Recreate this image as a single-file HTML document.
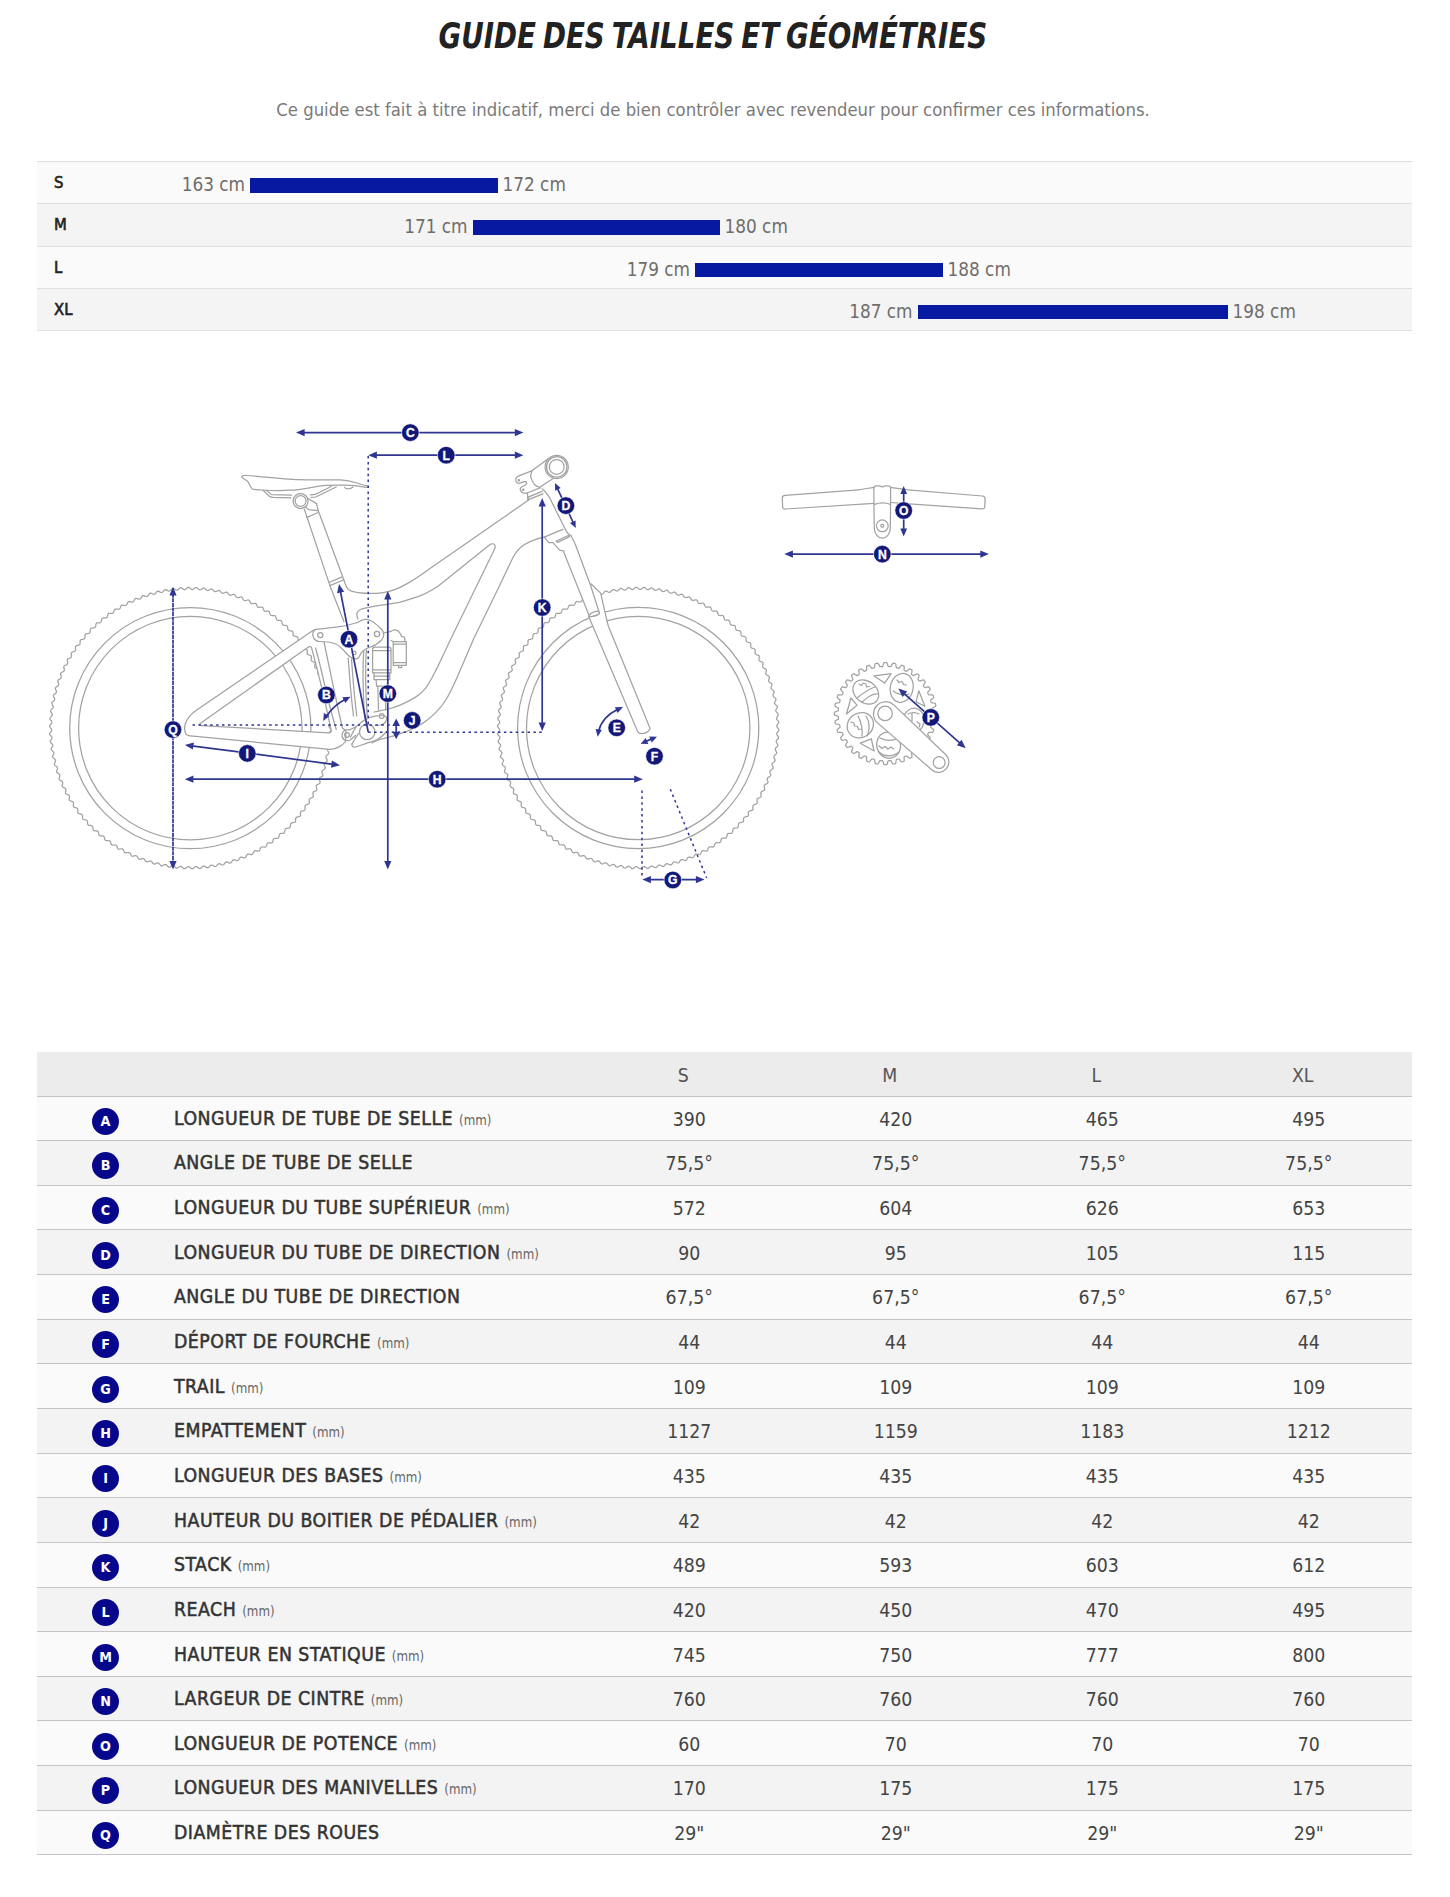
<!DOCTYPE html>
<html lang="fr"><head><meta charset="utf-8"><title>Guide des tailles et géométries</title>
<style>
html,body{margin:0;padding:0;background:#fff;}
body{width:1450px;height:1897px;overflow:hidden;font-family:"DejaVu Sans Condensed","DejaVu Sans","Liberation Sans",sans-serif;font-stretch:condensed;color:#333;}
#page{position:relative;width:1450px;height:1897px;}
.title{position:absolute;left:-12.5px;top:12px;width:1450px;margin:0;text-align:center;font:oblique bold 35px/48px "DejaVu Sans Condensed","DejaVu Sans","Liberation Sans",sans-serif;font-stretch:condensed;color:#222;white-space:nowrap;word-spacing:-3px;}
.title span{display:inline-block;transform:scaleX(.880);transform-origin:50% 50%;}
.sub{position:absolute;left:-12px;top:98px;width:1450px;margin:0;text-align:center;font-size:18.33px;line-height:24px;color:#7a7a7a;white-space:nowrap;}
.sizes{position:absolute;left:37px;top:161px;width:1375px;}
.srow{position:relative;height:41.3px;border-top:1px solid #dfdfdf;}
.srow.r0{background:#fafafa;}
.srow.r1{background:#f4f4f4;}
.send{border-top:1px solid #dfdfdf;}
.sname{position:absolute;left:17px;top:0;line-height:42px;font-size:16.5px;font-weight:normal;color:#222;-webkit-text-stroke:.6px #222;}
.slab{position:absolute;top:0;line-height:45px;font-size:18.8px;color:#706d6a;white-space:nowrap;}
.bar{position:absolute;top:16px;height:14.5px;background:#0619a0;}
.diagram{position:absolute;left:0;top:380px;width:1450px;height:560px;}
.geo{position:absolute;left:37px;top:1052px;width:1375px;border-collapse:collapse;table-layout:fixed;}
.geo th{box-sizing:border-box;height:44px;background:#ececec;font-weight:normal;font-size:19.3px;color:#555;padding:0 12px 0 0;}
.geo td{box-sizing:border-box;height:44.65px;border-top:1px solid #c5c5c5;padding:0;font-size:19.3px;}
.geo tr.r0 td{background:#fafafa;}
.geo tr.r1 td{background:#f3f3f3;}
.geo tbody tr:last-child td{border-bottom:1px solid #c5c5c5;}
.geo .c0{width:137px;text-align:center;}
.geo .c1{width:412px;text-align:left;}
.geo td.c1{color:#333;letter-spacing:.5px;-webkit-text-stroke:.5px #333;white-space:nowrap;}
.geo td.c1 small{font-size:13.2px;color:#666;letter-spacing:0;-webkit-text-stroke:0;}
.geo td.v{text-align:center;color:#444;}
.badge{display:inline-block;width:27px;height:27px;border-radius:50%;background:#07078c;color:#fff;font-size:14.2px;line-height:27px;text-align:center;vertical-align:middle;position:relative;top:3px;}

.geo th{padding-top:3px;}
.geo td.v{padding-top:2px;}

</style></head><body>
<div id="page">
<h1 class="title"><span>GUIDE DES TAILLES ET GÉOMÉTRIES</span></h1>
<p class="sub">Ce guide est fait à titre indicatif, merci de bien contrôler avec revendeur pour confirmer ces informations.</p>
<div class="sizes">
<div class="srow r0"><span class="sname">S</span><span class="slab l" style="right:1167.0px">163 cm</span><span class="bar" style="left:213.0px;width:247.5px"></span><span class="slab" style="left:465.5px">172 cm</span></div>
<div class="srow r1"><span class="sname">M</span><span class="slab l" style="right:944.5px">171 cm</span><span class="bar" style="left:435.5px;width:247.0px"></span><span class="slab" style="left:687.5px">180 cm</span></div>
<div class="srow r0"><span class="sname">L</span><span class="slab l" style="right:722.0px">179 cm</span><span class="bar" style="left:658.0px;width:247.5px"></span><span class="slab" style="left:910.5px">188 cm</span></div>
<div class="srow r1"><span class="sname">XL</span><span class="slab l" style="right:499.5px">187 cm</span><span class="bar" style="left:880.5px;width:310.0px"></span><span class="slab" style="left:1195.5px">198 cm</span></div>
<div class="send"></div></div>
<div class="diagram">
<svg width="1450" height="560" viewBox="0 380 1450 560">
<g fill="none" stroke="#a2a2a2" stroke-width="1.25" stroke-linecap="round" stroke-linejoin="round">
<path d="M329.9,728.1 L330.6,728.9 L331.0,729.7 L331.0,730.4 L330.5,731.2 L329.8,731.9 L329.2,732.7 L328.8,733.4 L328.8,734.2 L329.1,735.0 L329.7,735.8 L330.3,736.6 L330.7,737.4 L330.6,738.2 L330.2,738.9 L329.4,739.6 L328.8,740.3 L328.3,741.1 L328.3,741.8 L328.6,742.6 L329.1,743.5 L329.6,744.3 L330.0,745.1 L329.9,745.9 L329.4,746.6 L328.6,747.3 L327.9,748.0 L327.4,748.7 L327.3,749.4 L327.5,750.2 L328.0,751.1 L328.5,752.0 L328.8,752.8 L328.7,753.5 L328.1,754.2 L327.3,754.9 L326.6,755.5 L326.1,756.2 L325.9,756.9 L326.1,757.8 L326.5,758.6 L327.0,759.5 L327.2,760.4 L327.1,761.1 L326.5,761.8 L325.6,762.4 L324.9,763.0 L324.3,763.6 L324.1,764.4 L324.3,765.2 L324.6,766.1 L325.1,767.0 L325.3,767.9 L325.0,768.6 L324.4,769.2 L323.5,769.8 L322.7,770.3 L322.2,770.9 L321.9,771.7 L322.0,772.5 L322.3,773.4 L322.7,774.4 L322.9,775.2 L322.6,776.0 L321.9,776.6 L321.0,777.0 L320.2,777.6 L319.6,778.1 L319.3,778.9 L319.4,779.7 L319.6,780.6 L320.0,781.6 L320.1,782.5 L319.8,783.2 L319.1,783.7 L318.1,784.2 L317.3,784.6 L316.6,785.2 L316.3,785.9 L316.3,786.7 L316.5,787.7 L316.8,788.7 L316.9,789.5 L316.5,790.2 L315.8,790.7 L314.9,791.1 L314.0,791.6 L313.3,792.1 L313.0,792.7 L312.9,793.6 L313.1,794.5 L313.3,795.5 L313.3,796.4 L312.9,797.1 L312.2,797.6 L311.2,797.9 L310.3,798.3 L309.6,798.7 L309.2,799.4 L309.1,800.2 L309.2,801.2 L309.4,802.2 L309.3,803.1 L308.9,803.7 L308.2,804.2 L307.2,804.5 L306.3,804.8 L305.5,805.2 L305.1,805.8 L305.0,806.7 L305.0,807.6 L305.1,808.7 L305.0,809.5 L304.6,810.2 L303.8,810.6 L302.8,810.8 L301.9,811.0 L301.1,811.4 L300.6,812.0 L300.5,812.9 L300.5,813.8 L300.5,814.9 L300.4,815.7 L299.9,816.3 L299.1,816.7 L298.1,816.8 L297.1,817.1 L296.3,817.4 L295.9,818.0 L295.6,818.8 L295.6,819.8 L295.6,820.8 L295.4,821.7 L294.9,822.2 L294.0,822.5 L293.0,822.6 L292.1,822.8 L291.3,823.1 L290.7,823.7 L290.5,824.5 L290.4,825.4 L290.3,826.5 L290.1,827.3 L289.5,827.9 L288.7,828.1 L287.6,828.2 L286.7,828.3 L285.9,828.5 L285.3,829.1 L285.0,829.9 L284.8,830.8 L284.7,831.8 L284.4,832.7 L283.9,833.2 L283.0,833.4 L282.0,833.4 L281.0,833.4 L280.2,833.7 L279.6,834.1 L279.3,834.9 L279.0,835.9 L278.9,836.9 L278.5,837.7 L277.9,838.2 L277.1,838.3 L276.0,838.3 L275.1,838.3 L274.2,838.4 L273.6,838.9 L273.2,839.7 L273.0,840.6 L272.8,841.6 L272.4,842.4 L271.7,842.8 L270.9,842.9 L269.8,842.8 L268.9,842.8 L268.0,842.9 L267.4,843.3 L267.0,844.1 L266.7,845.0 L266.4,846.0 L265.9,846.7 L265.3,847.1 L264.4,847.2 L263.4,847.0 L262.4,846.9 L261.6,847.0 L260.9,847.4 L260.5,848.1 L260.1,849.0 L259.8,850.0 L259.3,850.7 L258.6,851.1 L257.7,851.1 L256.7,850.9 L255.8,850.7 L254.9,850.8 L254.3,851.1 L253.8,851.8 L253.3,852.7 L252.9,853.6 L252.4,854.3 L251.7,854.7 L250.9,854.6 L249.9,854.3 L248.9,854.1 L248.1,854.1 L247.4,854.4 L246.8,855.1 L246.4,855.9 L245.9,856.9 L245.4,857.6 L244.7,857.9 L243.8,857.8 L242.8,857.4 L241.9,857.2 L241.1,857.1 L240.3,857.4 L239.8,858.0 L239.2,858.8 L238.8,859.7 L238.2,860.4 L237.4,860.7 L236.6,860.5 L235.6,860.1 L234.7,859.8 L233.9,859.7 L233.1,860.0 L232.5,860.5 L232.0,861.3 L231.4,862.2 L230.8,862.8 L230.1,863.1 L229.2,862.9 L228.3,862.4 L227.4,862.1 L226.6,861.9 L225.8,862.1 L225.2,862.7 L224.6,863.4 L224.0,864.3 L223.3,864.9 L222.6,865.0 L221.7,864.8 L220.8,864.3 L220.0,863.9 L219.1,863.7 L218.4,863.9 L217.7,864.4 L217.1,865.1 L216.4,865.9 L215.7,866.5 L215.0,866.6 L214.2,866.3 L213.3,865.8 L212.4,865.3 L211.6,865.1 L210.9,865.2 L210.2,865.7 L209.5,866.4 L208.8,867.2 L208.1,867.7 L207.3,867.8 L206.5,867.4 L205.7,866.9 L204.8,866.4 L204.0,866.1 L203.3,866.1 L202.5,866.6 L201.8,867.2 L201.1,868.0 L200.4,868.4 L199.6,868.5 L198.8,868.1 L198.0,867.5 L197.2,866.9 L196.4,866.6 L195.6,866.6 L194.9,867.0 L194.1,867.6 L193.4,868.3 L192.6,868.8 L191.9,868.8 L191.1,868.4 L190.3,867.7 L189.5,867.1 L188.8,866.7 L188.0,866.7 L187.2,867.1 L186.5,867.6 L185.7,868.3 L184.9,868.7 L184.1,868.7 L183.3,868.2 L182.6,867.5 L181.9,866.9 L181.1,866.4 L180.4,866.4 L179.6,866.7 L178.8,867.2 L177.9,867.8 L177.1,868.2 L176.4,868.1 L175.6,867.6 L174.9,866.9 L174.2,866.2 L173.5,865.7 L172.8,865.6 L172.0,865.9 L171.1,866.4 L170.3,866.9 L169.4,867.2 L168.7,867.1 L168.0,866.6 L167.3,865.8 L166.7,865.1 L166.0,864.6 L165.2,864.5 L164.4,864.7 L163.5,865.1 L162.6,865.6 L161.8,865.9 L161.0,865.7 L160.4,865.1 L159.8,864.3 L159.2,863.6 L158.5,863.1 L157.7,862.9 L156.9,863.0 L156.0,863.4 L155.1,863.9 L154.3,864.1 L153.5,863.9 L152.9,863.3 L152.3,862.4 L151.7,861.7 L151.1,861.1 L150.4,860.9 L149.5,861.0 L148.6,861.3 L147.7,861.7 L146.8,861.9 L146.1,861.7 L145.5,861.0 L145.0,860.1 L144.4,859.3 L143.8,858.7 L143.1,858.5 L142.3,858.6 L141.4,858.8 L140.4,859.2 L139.5,859.3 L138.8,859.0 L138.2,858.4 L137.8,857.4 L137.3,856.6 L136.7,856.0 L136.0,855.7 L135.2,855.7 L134.2,855.9 L133.2,856.2 L132.4,856.3 L131.7,856.0 L131.1,855.3 L130.7,854.3 L130.3,853.5 L129.7,852.8 L129.1,852.5 L128.2,852.5 L127.3,852.7 L126.3,852.9 L125.4,852.9 L124.7,852.6 L124.2,851.8 L123.9,850.9 L123.5,850.0 L123.0,849.3 L122.3,848.9 L121.5,848.9 L120.5,849.0 L119.5,849.2 L118.6,849.2 L117.9,848.8 L117.5,848.0 L117.2,847.0 L116.9,846.1 L116.4,845.4 L115.8,845.0 L114.9,844.9 L113.9,845.0 L112.9,845.1 L112.1,845.0 L111.4,844.6 L111.0,843.8 L110.8,842.8 L110.5,841.9 L110.0,841.2 L109.4,840.7 L108.6,840.6 L107.6,840.6 L106.6,840.7 L105.7,840.5 L105.1,840.1 L104.8,839.3 L104.6,838.3 L104.3,837.3 L103.9,836.6 L103.3,836.1 L102.5,835.9 L101.6,835.9 L100.5,835.9 L99.7,835.7 L99.1,835.2 L98.8,834.4 L98.6,833.4 L98.4,832.4 L98.1,831.6 L97.5,831.1 L96.7,830.9 L95.8,830.8 L94.7,830.8 L93.9,830.6 L93.3,830.0 L93.0,829.2 L93.0,828.2 L92.8,827.2 L92.5,826.4 L92.0,825.9 L91.2,825.6 L90.2,825.4 L89.2,825.4 L88.4,825.1 L87.8,824.5 L87.6,823.7 L87.6,822.6 L87.5,821.7 L87.3,820.9 L86.8,820.3 L86.0,820.0 L85.0,819.8 L84.0,819.6 L83.2,819.3 L82.7,818.7 L82.5,817.9 L82.5,816.8 L82.5,815.9 L82.3,815.1 L81.8,814.5 L81.1,814.1 L80.1,813.8 L79.1,813.6 L78.3,813.3 L77.9,812.7 L77.7,811.8 L77.8,810.8 L77.8,809.8 L77.7,809.0 L77.2,808.4 L76.5,807.9 L75.6,807.6 L74.6,807.4 L73.8,807.0 L73.4,806.3 L73.3,805.5 L73.4,804.5 L73.5,803.5 L73.4,802.6 L73.0,802.0 L72.3,801.5 L71.4,801.2 L70.4,800.9 L69.6,800.5 L69.2,799.8 L69.2,798.9 L69.4,797.9 L69.5,796.9 L69.5,796.1 L69.1,795.4 L68.4,794.9 L67.5,794.5 L66.6,794.2 L65.8,793.7 L65.5,793.0 L65.5,792.1 L65.7,791.1 L65.9,790.2 L65.9,789.3 L65.6,788.7 L64.9,788.1 L64.1,787.7 L63.1,787.3 L62.4,786.7 L62.1,786.0 L62.2,785.2 L62.5,784.2 L62.7,783.2 L62.7,782.4 L62.4,781.7 L61.8,781.1 L61.0,780.6 L60.0,780.2 L59.4,779.6 L59.1,778.9 L59.2,778.0 L59.6,777.0 L59.8,776.1 L59.9,775.3 L59.7,774.6 L59.1,774.0 L58.3,773.4 L57.4,772.9 L56.7,772.3 L56.5,771.6 L56.7,770.7 L57.1,769.8 L57.4,768.9 L57.5,768.0 L57.3,767.3 L56.7,766.7 L56.0,766.1 L55.1,765.5 L54.5,764.9 L54.3,764.1 L54.5,763.3 L55.0,762.4 L55.4,761.5 L55.5,760.7 L55.3,759.9 L54.8,759.2 L54.1,758.6 L53.3,758.0 L52.7,757.4 L52.5,756.6 L52.8,755.8 L53.3,754.9 L53.7,754.0 L53.9,753.2 L53.8,752.4 L53.3,751.7 L52.6,751.1 L51.8,750.4 L51.3,749.7 L51.2,749.0 L51.5,748.1 L52.0,747.3 L52.5,746.4 L52.8,745.6 L52.7,744.9 L52.2,744.2 L51.5,743.5 L50.8,742.8 L50.3,742.0 L50.2,741.3 L50.6,740.5 L51.2,739.6 L51.7,738.8 L52.0,738.0 L52.0,737.3 L51.5,736.5 L50.9,735.8 L50.2,735.1 L49.7,734.3 L49.7,733.5 L50.1,732.7 L50.8,731.9 L51.3,731.2 L51.7,730.4 L51.7,729.6 L51.3,728.9 L50.7,728.1 L50.0,727.3 L49.6,726.5 L49.6,725.8 L50.1,725.0 L50.8,724.3 L51.4,723.5 L51.8,722.8 L51.8,722.0 L51.5,721.2 L50.9,720.4 L50.3,719.6 L49.9,718.8 L50.0,718.0 L50.4,717.3 L51.2,716.6 L51.8,715.9 L52.3,715.1 L52.3,714.4 L52.0,713.6 L51.5,712.7 L51.0,711.9 L50.6,711.1 L50.7,710.3 L51.2,709.6 L52.0,708.9 L52.7,708.2 L53.2,707.5 L53.3,706.8 L53.1,706.0 L52.6,705.1 L52.1,704.2 L51.8,703.4 L51.9,702.7 L52.5,702.0 L53.3,701.3 L54.0,700.7 L54.5,700.0 L54.7,699.3 L54.5,698.4 L54.1,697.6 L53.6,696.7 L53.4,695.8 L53.5,695.1 L54.1,694.4 L55.0,693.8 L55.7,693.2 L56.3,692.6 L56.5,691.8 L56.3,691.0 L56.0,690.1 L55.5,689.2 L55.3,688.3 L55.6,687.6 L56.2,687.0 L57.1,686.4 L57.9,685.9 L58.4,685.3 L58.7,684.5 L58.6,683.7 L58.3,682.8 L57.9,681.8 L57.7,681.0 L58.0,680.2 L58.7,679.6 L59.6,679.2 L60.4,678.6 L61.0,678.1 L61.3,677.3 L61.2,676.5 L61.0,675.6 L60.6,674.6 L60.5,673.7 L60.8,673.0 L61.5,672.5 L62.5,672.0 L63.3,671.6 L64.0,671.0 L64.3,670.3 L64.3,669.5 L64.1,668.5 L63.8,667.5 L63.7,666.7 L64.1,666.0 L64.8,665.5 L65.7,665.1 L66.6,664.6 L67.3,664.1 L67.6,663.5 L67.7,662.6 L67.5,661.7 L67.3,660.7 L67.3,659.8 L67.7,659.1 L68.4,658.6 L69.4,658.3 L70.3,657.9 L71.0,657.5 L71.4,656.8 L71.5,656.0 L71.4,655.0 L71.2,654.0 L71.3,653.1 L71.7,652.5 L72.4,652.0 L73.4,651.7 L74.3,651.4 L75.1,651.0 L75.5,650.4 L75.6,649.5 L75.6,648.6 L75.5,647.5 L75.6,646.7 L76.0,646.0 L76.8,645.6 L77.8,645.4 L78.7,645.2 L79.5,644.8 L80.0,644.2 L80.1,643.3 L80.1,642.4 L80.1,641.3 L80.2,640.5 L80.7,639.9 L81.5,639.5 L82.5,639.4 L83.5,639.1 L84.3,638.8 L84.7,638.2 L85.0,637.4 L85.0,636.4 L85.0,635.4 L85.2,634.5 L85.7,634.0 L86.6,633.7 L87.6,633.6 L88.5,633.4 L89.3,633.1 L89.9,632.5 L90.1,631.7 L90.2,630.8 L90.3,629.7 L90.5,628.9 L91.1,628.3 L91.9,628.1 L93.0,628.0 L93.9,627.9 L94.7,627.7 L95.3,627.1 L95.6,626.3 L95.8,625.4 L95.9,624.4 L96.2,623.5 L96.7,623.0 L97.6,622.8 L98.6,622.8 L99.6,622.8 L100.4,622.5 L101.0,622.1 L101.3,621.3 L101.6,620.3 L101.7,619.3 L102.1,618.5 L102.7,618.0 L103.5,617.9 L104.6,617.9 L105.5,617.9 L106.4,617.8 L107.0,617.3 L107.4,616.5 L107.6,615.6 L107.8,614.6 L108.2,613.8 L108.9,613.4 L109.7,613.3 L110.8,613.4 L111.7,613.4 L112.6,613.3 L113.2,612.9 L113.6,612.1 L113.9,611.2 L114.2,610.2 L114.7,609.5 L115.3,609.1 L116.2,609.0 L117.2,609.2 L118.2,609.3 L119.0,609.2 L119.7,608.8 L120.1,608.1 L120.5,607.2 L120.8,606.2 L121.3,605.5 L122.0,605.1 L122.9,605.1 L123.9,605.3 L124.8,605.5 L125.7,605.4 L126.3,605.1 L126.8,604.4 L127.3,603.5 L127.7,602.6 L128.2,601.9 L128.9,601.5 L129.7,601.6 L130.7,601.9 L131.7,602.1 L132.5,602.1 L133.2,601.8 L133.8,601.1 L134.2,600.3 L134.7,599.3 L135.2,598.6 L135.9,598.3 L136.8,598.4 L137.8,598.8 L138.7,599.0 L139.5,599.1 L140.3,598.8 L140.8,598.2 L141.4,597.4 L141.8,596.5 L142.4,595.8 L143.2,595.5 L144.0,595.7 L145.0,596.1 L145.9,596.4 L146.7,596.5 L147.5,596.2 L148.1,595.7 L148.6,594.9 L149.2,594.0 L149.8,593.4 L150.5,593.1 L151.4,593.3 L152.3,593.8 L153.2,594.1 L154.0,594.3 L154.8,594.1 L155.4,593.5 L156.0,592.8 L156.6,591.9 L157.3,591.3 L158.0,591.2 L158.9,591.4 L159.8,591.9 L160.6,592.3 L161.5,592.5 L162.2,592.3 L162.9,591.8 L163.5,591.1 L164.2,590.3 L164.9,589.7 L165.6,589.6 L166.4,589.9 L167.3,590.4 L168.2,590.9 L169.0,591.1 L169.7,591.0 L170.4,590.5 L171.1,589.8 L171.8,589.0 L172.5,588.5 L173.3,588.4 L174.1,588.8 L174.9,589.3 L175.8,589.8 L176.6,590.1 L177.3,590.1 L178.1,589.6 L178.8,589.0 L179.5,588.2 L180.2,587.8 L181.0,587.7 L181.8,588.1 L182.6,588.7 L183.4,589.3 L184.2,589.6 L185.0,589.6 L185.7,589.2 L186.5,588.6 L187.2,587.9 L188.0,587.4 L188.7,587.4 L189.5,587.8 L190.3,588.5 L191.1,589.1 L191.8,589.5 L192.6,589.5 L193.4,589.1 L194.1,588.6 L194.9,587.9 L195.7,587.5 L196.5,587.5 L197.3,588.0 L198.0,588.7 L198.7,589.3 L199.5,589.8 L200.2,589.8 L201.0,589.5 L201.8,589.0 L202.7,588.4 L203.5,588.0 L204.2,588.1 L205.0,588.6 L205.7,589.3 L206.4,590.0 L207.1,590.5 L207.8,590.6 L208.6,590.3 L209.5,589.8 L210.3,589.3 L211.2,589.0 L211.9,589.1 L212.6,589.6 L213.3,590.4 L213.9,591.1 L214.6,591.6 L215.4,591.7 L216.2,591.5 L217.1,591.1 L218.0,590.6 L218.8,590.3 L219.6,590.5 L220.2,591.1 L220.8,591.9 L221.4,592.6 L222.1,593.1 L222.9,593.3 L223.7,593.2 L224.6,592.8 L225.5,592.3 L226.3,592.1 L227.1,592.3 L227.7,592.9 L228.3,593.8 L228.9,594.5 L229.5,595.1 L230.2,595.3 L231.1,595.2 L232.0,594.9 L232.9,594.5 L233.8,594.3 L234.5,594.5 L235.1,595.2 L235.6,596.1 L236.2,596.9 L236.8,597.5 L237.5,597.7 L238.3,597.6 L239.2,597.4 L240.2,597.0 L241.1,596.9 L241.8,597.2 L242.4,597.8 L242.8,598.8 L243.3,599.6 L243.9,600.2 L244.6,600.5 L245.4,600.5 L246.4,600.3 L247.4,600.0 L248.2,599.9 L248.9,600.2 L249.5,600.9 L249.9,601.9 L250.3,602.7 L250.9,603.4 L251.5,603.7 L252.4,603.7 L253.3,603.5 L254.3,603.3 L255.2,603.3 L255.9,603.6 L256.4,604.4 L256.7,605.3 L257.1,606.2 L257.6,606.9 L258.3,607.3 L259.1,607.3 L260.1,607.2 L261.1,607.0 L262.0,607.0 L262.7,607.4 L263.1,608.2 L263.4,609.2 L263.7,610.1 L264.2,610.8 L264.8,611.2 L265.7,611.3 L266.7,611.2 L267.7,611.1 L268.5,611.2 L269.2,611.6 L269.6,612.4 L269.8,613.4 L270.1,614.3 L270.6,615.0 L271.2,615.5 L272.0,615.6 L273.0,615.6 L274.0,615.5 L274.9,615.7 L275.5,616.1 L275.8,616.9 L276.0,617.9 L276.3,618.9 L276.7,619.6 L277.3,620.1 L278.1,620.3 L279.0,620.3 L280.1,620.3 L280.9,620.5 L281.5,621.0 L281.8,621.8 L282.0,622.8 L282.2,623.8 L282.5,624.6 L283.1,625.1 L283.9,625.3 L284.8,625.4 L285.9,625.4 L286.7,625.6 L287.3,626.2 L287.6,627.0 L287.6,628.0 L287.8,629.0 L288.1,629.8 L288.6,630.3 L289.4,630.6 L290.4,630.8 L291.4,630.8 L292.2,631.1 L292.8,631.7 L293.0,632.5 L293.0,633.6 L293.1,634.5 L293.3,635.3 L293.8,635.9 L294.6,636.2 L295.6,636.4 L296.6,636.6 L297.4,636.9 L297.9,637.5 L298.1,638.3 L298.1,639.4 L298.1,640.3 L298.3,641.1 L298.8,641.7 L299.5,642.1 L300.5,642.4 L301.5,642.6 L302.3,642.9 L302.7,643.5 L302.9,644.4 L302.8,645.4 L302.8,646.4 L302.9,647.2 L303.4,647.8 L304.1,648.3 L305.0,648.6 L306.0,648.8 L306.8,649.2 L307.2,649.9 L307.3,650.7 L307.2,651.7 L307.1,652.7 L307.2,653.6 L307.6,654.2 L308.3,654.7 L309.2,655.0 L310.2,655.3 L311.0,655.7 L311.4,656.4 L311.4,657.3 L311.2,658.3 L311.1,659.3 L311.1,660.1 L311.5,660.8 L312.2,661.3 L313.1,661.7 L314.0,662.0 L314.8,662.5 L315.1,663.2 L315.1,664.1 L314.9,665.1 L314.7,666.0 L314.7,666.9 L315.0,667.5 L315.7,668.1 L316.5,668.5 L317.5,668.9 L318.2,669.5 L318.5,670.2 L318.4,671.0 L318.1,672.0 L317.9,673.0 L317.9,673.8 L318.2,674.5 L318.8,675.1 L319.6,675.6 L320.6,676.0 L321.2,676.6 L321.5,677.3 L321.4,678.2 L321.0,679.2 L320.8,680.1 L320.7,680.9 L320.9,681.6 L321.5,682.2 L322.3,682.8 L323.2,683.3 L323.9,683.9 L324.1,684.6 L323.9,685.5 L323.5,686.4 L323.2,687.3 L323.1,688.2 L323.3,688.9 L323.9,689.5 L324.6,690.1 L325.5,690.7 L326.1,691.3 L326.3,692.1 L326.1,692.9 L325.6,693.8 L325.2,694.7 L325.1,695.5 L325.3,696.3 L325.8,697.0 L326.5,697.6 L327.3,698.2 L327.9,698.8 L328.1,699.6 L327.8,700.4 L327.3,701.3 L326.9,702.2 L326.7,703.0 L326.8,703.8 L327.3,704.5 L328.0,705.1 L328.8,705.8 L329.3,706.5 L329.4,707.2 L329.1,708.1 L328.6,708.9 L328.1,709.8 L327.8,710.6 L327.9,711.3 L328.4,712.0 L329.1,712.7 L329.8,713.4 L330.3,714.2 L330.4,714.9 L330.0,715.7 L329.4,716.6 L328.9,717.4 L328.6,718.2 L328.6,718.9 L329.1,719.7 L329.7,720.4 L330.4,721.1 L330.9,721.9 L330.9,722.7 L330.5,723.5 L329.8,724.3 L329.3,725.0 L328.9,725.8 L328.9,726.6 L329.3,727.3 L329.9,728.1Z"/>
<circle cx="190.3" cy="728.1" r="120.6"/><circle cx="190.3" cy="728.1" r="111.7"/>
<path d="M777.8,728.0 L778.5,728.8 L778.9,729.6 L778.9,730.3 L778.4,731.1 L777.7,731.8 L777.1,732.6 L776.7,733.3 L776.7,734.1 L777.0,734.9 L777.6,735.7 L778.2,736.5 L778.6,737.3 L778.5,738.1 L778.1,738.8 L777.3,739.5 L776.7,740.2 L776.2,741.0 L776.2,741.7 L776.5,742.5 L777.0,743.4 L777.5,744.2 L777.9,745.0 L777.8,745.8 L777.3,746.5 L776.5,747.2 L775.8,747.9 L775.3,748.6 L775.2,749.3 L775.4,750.1 L775.9,751.0 L776.4,751.9 L776.7,752.7 L776.6,753.4 L776.0,754.1 L775.2,754.8 L774.5,755.4 L774.0,756.1 L773.8,756.8 L774.0,757.7 L774.4,758.5 L774.9,759.4 L775.1,760.3 L775.0,761.0 L774.4,761.7 L773.5,762.3 L772.8,762.9 L772.2,763.5 L772.0,764.3 L772.2,765.1 L772.5,766.0 L773.0,766.9 L773.2,767.8 L772.9,768.5 L772.3,769.1 L771.4,769.7 L770.6,770.2 L770.1,770.8 L769.8,771.6 L769.9,772.4 L770.2,773.3 L770.6,774.3 L770.8,775.1 L770.5,775.9 L769.8,776.5 L768.9,776.9 L768.1,777.5 L767.5,778.0 L767.2,778.8 L767.3,779.6 L767.5,780.5 L767.9,781.5 L768.0,782.4 L767.7,783.1 L767.0,783.6 L766.0,784.1 L765.2,784.5 L764.5,785.1 L764.2,785.8 L764.2,786.6 L764.4,787.6 L764.7,788.6 L764.8,789.4 L764.4,790.1 L763.7,790.6 L762.8,791.0 L761.9,791.5 L761.2,792.0 L760.9,792.6 L760.8,793.5 L761.0,794.4 L761.2,795.4 L761.2,796.3 L760.8,797.0 L760.1,797.5 L759.1,797.8 L758.2,798.2 L757.5,798.6 L757.1,799.3 L757.0,800.1 L757.1,801.1 L757.3,802.1 L757.2,803.0 L756.8,803.6 L756.1,804.1 L755.1,804.4 L754.2,804.7 L753.4,805.1 L753.0,805.7 L752.9,806.6 L752.9,807.5 L753.0,808.6 L752.9,809.4 L752.5,810.1 L751.7,810.5 L750.7,810.7 L749.8,810.9 L749.0,811.3 L748.5,811.9 L748.4,812.8 L748.4,813.7 L748.4,814.8 L748.3,815.6 L747.8,816.2 L747.0,816.6 L746.0,816.7 L745.0,817.0 L744.2,817.3 L743.8,817.9 L743.5,818.7 L743.5,819.7 L743.5,820.7 L743.3,821.6 L742.8,822.1 L741.9,822.4 L740.9,822.5 L740.0,822.7 L739.2,823.0 L738.6,823.6 L738.4,824.4 L738.3,825.3 L738.2,826.4 L738.0,827.2 L737.4,827.8 L736.6,828.0 L735.5,828.1 L734.6,828.2 L733.8,828.4 L733.2,829.0 L732.9,829.8 L732.7,830.7 L732.6,831.7 L732.3,832.6 L731.8,833.1 L730.9,833.3 L729.9,833.3 L728.9,833.3 L728.1,833.6 L727.5,834.0 L727.2,834.8 L726.9,835.8 L726.8,836.8 L726.4,837.6 L725.8,838.1 L725.0,838.2 L723.9,838.2 L723.0,838.2 L722.1,838.3 L721.5,838.8 L721.1,839.6 L720.9,840.5 L720.7,841.5 L720.3,842.3 L719.6,842.7 L718.8,842.8 L717.7,842.7 L716.8,842.7 L715.9,842.8 L715.3,843.2 L714.9,844.0 L714.6,844.9 L714.3,845.9 L713.8,846.6 L713.2,847.0 L712.3,847.1 L711.3,846.9 L710.3,846.8 L709.5,846.9 L708.8,847.3 L708.4,848.0 L708.0,848.9 L707.7,849.9 L707.2,850.6 L706.5,851.0 L705.6,851.0 L704.6,850.8 L703.7,850.6 L702.8,850.7 L702.2,851.0 L701.7,851.7 L701.2,852.6 L700.8,853.5 L700.3,854.2 L699.6,854.6 L698.8,854.5 L697.8,854.2 L696.8,854.0 L696.0,854.0 L695.3,854.3 L694.7,855.0 L694.3,855.8 L693.8,856.8 L693.3,857.5 L692.6,857.8 L691.7,857.7 L690.7,857.3 L689.8,857.1 L689.0,857.0 L688.2,857.3 L687.7,857.9 L687.1,858.7 L686.7,859.6 L686.1,860.3 L685.3,860.6 L684.5,860.4 L683.5,860.0 L682.6,859.7 L681.8,859.6 L681.0,859.9 L680.4,860.4 L679.9,861.2 L679.3,862.1 L678.7,862.7 L678.0,863.0 L677.1,862.8 L676.2,862.3 L675.3,862.0 L674.5,861.8 L673.7,862.0 L673.1,862.6 L672.5,863.3 L671.9,864.2 L671.2,864.8 L670.5,864.9 L669.6,864.7 L668.7,864.2 L667.9,863.8 L667.0,863.6 L666.3,863.8 L665.6,864.3 L665.0,865.0 L664.3,865.8 L663.6,866.4 L662.9,866.5 L662.1,866.2 L661.2,865.7 L660.3,865.2 L659.5,865.0 L658.8,865.1 L658.1,865.6 L657.4,866.3 L656.7,867.1 L656.0,867.6 L655.2,867.7 L654.4,867.3 L653.6,866.8 L652.7,866.3 L651.9,866.0 L651.2,866.0 L650.4,866.5 L649.7,867.1 L649.0,867.9 L648.3,868.3 L647.5,868.4 L646.7,868.0 L645.9,867.4 L645.1,866.8 L644.3,866.5 L643.5,866.5 L642.8,866.9 L642.0,867.5 L641.3,868.2 L640.5,868.7 L639.8,868.7 L639.0,868.3 L638.2,867.6 L637.4,867.0 L636.7,866.6 L635.9,866.6 L635.1,867.0 L634.4,867.5 L633.6,868.2 L632.8,868.6 L632.0,868.6 L631.2,868.1 L630.5,867.4 L629.8,866.8 L629.0,866.3 L628.3,866.3 L627.5,866.6 L626.7,867.1 L625.8,867.7 L625.0,868.1 L624.3,868.0 L623.5,867.5 L622.8,866.8 L622.1,866.1 L621.4,865.6 L620.7,865.5 L619.9,865.8 L619.0,866.3 L618.2,866.8 L617.3,867.1 L616.6,867.0 L615.9,866.5 L615.2,865.7 L614.6,865.0 L613.9,864.5 L613.1,864.4 L612.3,864.6 L611.4,865.0 L610.5,865.5 L609.7,865.8 L608.9,865.6 L608.3,865.0 L607.7,864.2 L607.1,863.5 L606.4,863.0 L605.6,862.8 L604.8,862.9 L603.9,863.3 L603.0,863.8 L602.2,864.0 L601.4,863.8 L600.8,863.2 L600.2,862.3 L599.6,861.6 L599.0,861.0 L598.3,860.8 L597.4,860.9 L596.5,861.2 L595.6,861.6 L594.7,861.8 L594.0,861.6 L593.4,860.9 L592.9,860.0 L592.3,859.2 L591.7,858.6 L591.0,858.4 L590.2,858.5 L589.3,858.7 L588.3,859.1 L587.4,859.2 L586.7,858.9 L586.1,858.3 L585.7,857.3 L585.2,856.5 L584.6,855.9 L583.9,855.6 L583.1,855.6 L582.1,855.8 L581.1,856.1 L580.3,856.2 L579.6,855.9 L579.0,855.2 L578.6,854.2 L578.2,853.4 L577.6,852.7 L577.0,852.4 L576.1,852.4 L575.2,852.6 L574.2,852.8 L573.3,852.8 L572.6,852.5 L572.1,851.7 L571.8,850.8 L571.4,849.9 L570.9,849.2 L570.2,848.8 L569.4,848.8 L568.4,848.9 L567.4,849.1 L566.5,849.1 L565.8,848.7 L565.4,847.9 L565.1,846.9 L564.8,846.0 L564.3,845.3 L563.7,844.9 L562.8,844.8 L561.8,844.9 L560.8,845.0 L560.0,844.9 L559.3,844.5 L558.9,843.7 L558.7,842.7 L558.4,841.8 L557.9,841.1 L557.3,840.6 L556.5,840.5 L555.5,840.5 L554.5,840.6 L553.6,840.4 L553.0,840.0 L552.7,839.2 L552.5,838.2 L552.2,837.2 L551.8,836.5 L551.2,836.0 L550.4,835.8 L549.5,835.8 L548.4,835.8 L547.6,835.6 L547.0,835.1 L546.7,834.3 L546.5,833.3 L546.3,832.3 L546.0,831.5 L545.4,831.0 L544.6,830.8 L543.7,830.7 L542.6,830.7 L541.8,830.5 L541.2,829.9 L540.9,829.1 L540.9,828.1 L540.7,827.1 L540.4,826.3 L539.9,825.8 L539.1,825.5 L538.1,825.3 L537.1,825.3 L536.3,825.0 L535.7,824.4 L535.5,823.6 L535.5,822.5 L535.4,821.6 L535.2,820.8 L534.7,820.2 L533.9,819.9 L532.9,819.7 L531.9,819.5 L531.1,819.2 L530.6,818.6 L530.4,817.8 L530.4,816.7 L530.4,815.8 L530.2,815.0 L529.7,814.4 L529.0,814.0 L528.0,813.7 L527.0,813.5 L526.2,813.2 L525.8,812.6 L525.6,811.7 L525.7,810.7 L525.7,809.7 L525.6,808.9 L525.1,808.3 L524.4,807.8 L523.5,807.5 L522.5,807.3 L521.7,806.9 L521.3,806.2 L521.2,805.4 L521.3,804.4 L521.4,803.4 L521.3,802.5 L520.9,801.9 L520.2,801.4 L519.3,801.1 L518.3,800.8 L517.5,800.4 L517.1,799.7 L517.1,798.8 L517.3,797.8 L517.4,796.8 L517.4,796.0 L517.0,795.3 L516.3,794.8 L515.4,794.4 L514.5,794.1 L513.7,793.6 L513.4,792.9 L513.4,792.0 L513.6,791.0 L513.8,790.1 L513.8,789.2 L513.5,788.6 L512.8,788.0 L512.0,787.6 L511.0,787.2 L510.3,786.6 L510.0,785.9 L510.1,785.1 L510.4,784.1 L510.6,783.1 L510.6,782.3 L510.3,781.6 L509.7,781.0 L508.9,780.5 L507.9,780.1 L507.3,779.5 L507.0,778.8 L507.1,777.9 L507.5,776.9 L507.7,776.0 L507.8,775.2 L507.6,774.5 L507.0,773.9 L506.2,773.3 L505.3,772.8 L504.6,772.2 L504.4,771.5 L504.6,770.6 L505.0,769.7 L505.3,768.8 L505.4,767.9 L505.2,767.2 L504.6,766.6 L503.9,766.0 L503.0,765.4 L502.4,764.8 L502.2,764.0 L502.4,763.2 L502.9,762.3 L503.3,761.4 L503.4,760.6 L503.2,759.8 L502.7,759.1 L502.0,758.5 L501.2,757.9 L500.6,757.3 L500.4,756.5 L500.7,755.7 L501.2,754.8 L501.6,753.9 L501.8,753.1 L501.7,752.3 L501.2,751.6 L500.5,751.0 L499.7,750.3 L499.2,749.6 L499.1,748.9 L499.4,748.0 L499.9,747.2 L500.4,746.3 L500.7,745.5 L500.6,744.8 L500.1,744.1 L499.4,743.4 L498.7,742.7 L498.2,741.9 L498.1,741.2 L498.5,740.4 L499.1,739.5 L499.6,738.7 L499.9,737.9 L499.9,737.2 L499.4,736.4 L498.8,735.7 L498.1,735.0 L497.6,734.2 L497.6,733.4 L498.0,732.6 L498.7,731.8 L499.2,731.1 L499.6,730.3 L499.6,729.5 L499.2,728.8 L498.6,728.0 L497.9,727.2 L497.5,726.4 L497.5,725.7 L498.0,724.9 L498.7,724.2 L499.3,723.4 L499.7,722.7 L499.7,721.9 L499.4,721.1 L498.8,720.3 L498.2,719.5 L497.8,718.7 L497.9,717.9 L498.3,717.2 L499.1,716.5 L499.7,715.8 L500.2,715.0 L500.2,714.3 L499.9,713.5 L499.4,712.6 L498.9,711.8 L498.5,711.0 L498.6,710.2 L499.1,709.5 L499.9,708.8 L500.6,708.1 L501.1,707.4 L501.2,706.7 L501.0,705.9 L500.5,705.0 L500.0,704.1 L499.7,703.3 L499.8,702.6 L500.4,701.9 L501.2,701.2 L501.9,700.6 L502.4,699.9 L502.6,699.2 L502.4,698.3 L502.0,697.5 L501.5,696.6 L501.3,695.7 L501.4,695.0 L502.0,694.3 L502.9,693.7 L503.6,693.1 L504.2,692.5 L504.4,691.7 L504.2,690.9 L503.9,690.0 L503.4,689.1 L503.2,688.2 L503.5,687.5 L504.1,686.9 L505.0,686.3 L505.8,685.8 L506.3,685.2 L506.6,684.4 L506.5,683.6 L506.2,682.7 L505.8,681.7 L505.6,680.9 L505.9,680.1 L506.6,679.5 L507.5,679.1 L508.3,678.5 L508.9,678.0 L509.2,677.2 L509.1,676.4 L508.9,675.5 L508.5,674.5 L508.4,673.6 L508.7,672.9 L509.4,672.4 L510.4,671.9 L511.2,671.5 L511.9,670.9 L512.2,670.2 L512.2,669.4 L512.0,668.4 L511.7,667.4 L511.6,666.6 L512.0,665.9 L512.7,665.4 L513.6,665.0 L514.5,664.5 L515.2,664.0 L515.5,663.4 L515.6,662.5 L515.4,661.6 L515.2,660.6 L515.2,659.7 L515.6,659.0 L516.3,658.5 L517.3,658.2 L518.2,657.8 L518.9,657.4 L519.3,656.7 L519.4,655.9 L519.3,654.9 L519.1,653.9 L519.2,653.0 L519.6,652.4 L520.3,651.9 L521.3,651.6 L522.2,651.3 L523.0,650.9 L523.4,650.3 L523.5,649.4 L523.5,648.5 L523.4,647.4 L523.5,646.6 L523.9,645.9 L524.7,645.5 L525.7,645.3 L526.6,645.1 L527.4,644.7 L527.9,644.1 L528.0,643.2 L528.0,642.3 L528.0,641.2 L528.1,640.4 L528.6,639.8 L529.4,639.4 L530.4,639.3 L531.4,639.0 L532.2,638.7 L532.6,638.1 L532.9,637.3 L532.9,636.3 L532.9,635.3 L533.1,634.4 L533.6,633.9 L534.5,633.6 L535.5,633.5 L536.4,633.3 L537.2,633.0 L537.8,632.4 L538.0,631.6 L538.1,630.7 L538.2,629.6 L538.4,628.8 L539.0,628.2 L539.8,628.0 L540.9,627.9 L541.8,627.8 L542.6,627.6 L543.2,627.0 L543.5,626.2 L543.7,625.3 L543.8,624.3 L544.1,623.4 L544.6,622.9 L545.5,622.7 L546.5,622.7 L547.5,622.7 L548.3,622.4 L548.9,622.0 L549.2,621.2 L549.5,620.2 L549.6,619.2 L550.0,618.4 L550.6,617.9 L551.4,617.8 L552.5,617.8 L553.4,617.8 L554.3,617.7 L554.9,617.2 L555.3,616.4 L555.5,615.5 L555.7,614.5 L556.1,613.7 L556.8,613.3 L557.6,613.2 L558.7,613.3 L559.6,613.3 L560.5,613.2 L561.1,612.8 L561.5,612.0 L561.8,611.1 L562.1,610.1 L562.6,609.4 L563.2,609.0 L564.1,608.9 L565.1,609.1 L566.1,609.2 L566.9,609.1 L567.6,608.7 L568.0,608.0 L568.4,607.1 L568.7,606.1 L569.2,605.4 L569.9,605.0 L570.8,605.0 L571.8,605.2 L572.7,605.4 L573.6,605.3 L574.2,605.0 L574.7,604.3 L575.2,603.4 L575.6,602.5 L576.1,601.8 L576.8,601.4 L577.6,601.5 L578.6,601.8 L579.6,602.0 L580.4,602.0 L581.1,601.7 L581.7,601.0 L582.1,600.2 L582.6,599.2 L583.1,598.5 L583.8,598.2 L584.7,598.3 L585.7,598.7 L586.6,598.9 L587.4,599.0 L588.2,598.7 L588.7,598.1 L589.3,597.3 L589.7,596.4 L590.3,595.7 L591.1,595.4 L591.9,595.6 L592.9,596.0 L593.8,596.3 L594.6,596.4 L595.4,596.1 L596.0,595.6 L596.5,594.8 L597.1,593.9 L597.7,593.3 L598.4,593.0 L599.3,593.2 L600.2,593.7 L601.1,594.0 L601.9,594.2 L602.7,594.0 L603.3,593.4 L603.9,592.7 L604.5,591.8 L605.2,591.2 L605.9,591.1 L606.8,591.3 L607.7,591.8 L608.5,592.2 L609.4,592.4 L610.1,592.2 L610.8,591.7 L611.4,591.0 L612.1,590.2 L612.8,589.6 L613.5,589.5 L614.3,589.8 L615.2,590.3 L616.1,590.8 L616.9,591.0 L617.6,590.9 L618.3,590.4 L619.0,589.7 L619.7,588.9 L620.4,588.4 L621.2,588.3 L622.0,588.7 L622.8,589.2 L623.7,589.7 L624.5,590.0 L625.2,590.0 L626.0,589.5 L626.7,588.9 L627.4,588.1 L628.1,587.7 L628.9,587.6 L629.7,588.0 L630.5,588.6 L631.3,589.2 L632.1,589.5 L632.9,589.5 L633.6,589.1 L634.4,588.5 L635.1,587.8 L635.9,587.3 L636.6,587.3 L637.4,587.7 L638.2,588.4 L639.0,589.0 L639.7,589.4 L640.5,589.4 L641.3,589.0 L642.0,588.5 L642.8,587.8 L643.6,587.4 L644.4,587.4 L645.2,587.9 L645.9,588.6 L646.6,589.2 L647.4,589.7 L648.1,589.7 L648.9,589.4 L649.7,588.9 L650.6,588.3 L651.4,587.9 L652.1,588.0 L652.9,588.5 L653.6,589.2 L654.3,589.9 L655.0,590.4 L655.7,590.5 L656.5,590.2 L657.4,589.7 L658.2,589.2 L659.1,588.9 L659.8,589.0 L660.5,589.5 L661.2,590.3 L661.8,591.0 L662.5,591.5 L663.3,591.6 L664.1,591.4 L665.0,591.0 L665.9,590.5 L666.7,590.2 L667.5,590.4 L668.1,591.0 L668.7,591.8 L669.3,592.5 L670.0,593.0 L670.8,593.2 L671.6,593.1 L672.5,592.7 L673.4,592.2 L674.2,592.0 L675.0,592.2 L675.6,592.8 L676.2,593.7 L676.8,594.4 L677.4,595.0 L678.1,595.2 L679.0,595.1 L679.9,594.8 L680.8,594.4 L681.7,594.2 L682.4,594.4 L683.0,595.1 L683.5,596.0 L684.1,596.8 L684.7,597.4 L685.4,597.6 L686.2,597.5 L687.1,597.3 L688.1,596.9 L689.0,596.8 L689.7,597.1 L690.3,597.7 L690.7,598.7 L691.2,599.5 L691.8,600.1 L692.5,600.4 L693.3,600.4 L694.3,600.2 L695.3,599.9 L696.1,599.8 L696.8,600.1 L697.4,600.8 L697.8,601.8 L698.2,602.6 L698.8,603.3 L699.4,603.6 L700.3,603.6 L701.2,603.4 L702.2,603.2 L703.1,603.2 L703.8,603.5 L704.3,604.3 L704.6,605.2 L705.0,606.1 L705.5,606.8 L706.2,607.2 L707.0,607.2 L708.0,607.1 L709.0,606.9 L709.9,606.9 L710.6,607.3 L711.0,608.1 L711.3,609.1 L711.6,610.0 L712.1,610.7 L712.7,611.1 L713.6,611.2 L714.6,611.1 L715.6,611.0 L716.4,611.1 L717.1,611.5 L717.5,612.3 L717.7,613.3 L718.0,614.2 L718.5,614.9 L719.1,615.4 L719.9,615.5 L720.9,615.5 L721.9,615.4 L722.8,615.6 L723.4,616.0 L723.7,616.8 L723.9,617.8 L724.2,618.8 L724.6,619.5 L725.2,620.0 L726.0,620.2 L726.9,620.2 L728.0,620.2 L728.8,620.4 L729.4,620.9 L729.7,621.7 L729.9,622.7 L730.1,623.7 L730.4,624.5 L731.0,625.0 L731.8,625.2 L732.7,625.3 L733.8,625.3 L734.6,625.5 L735.2,626.1 L735.5,626.9 L735.5,627.9 L735.7,628.9 L736.0,629.7 L736.5,630.2 L737.3,630.5 L738.3,630.7 L739.3,630.7 L740.1,631.0 L740.7,631.6 L740.9,632.4 L740.9,633.5 L741.0,634.4 L741.2,635.2 L741.7,635.8 L742.5,636.1 L743.5,636.3 L744.5,636.5 L745.3,636.8 L745.8,637.4 L746.0,638.2 L746.0,639.3 L746.0,640.2 L746.2,641.0 L746.7,641.6 L747.4,642.0 L748.4,642.3 L749.4,642.5 L750.2,642.8 L750.6,643.4 L750.8,644.3 L750.7,645.3 L750.7,646.3 L750.8,647.1 L751.3,647.7 L752.0,648.2 L752.9,648.5 L753.9,648.7 L754.7,649.1 L755.1,649.8 L755.2,650.6 L755.1,651.6 L755.0,652.6 L755.1,653.5 L755.5,654.1 L756.2,654.6 L757.1,654.9 L758.1,655.2 L758.9,655.6 L759.3,656.3 L759.3,657.2 L759.1,658.2 L759.0,659.2 L759.0,660.0 L759.4,660.7 L760.1,661.2 L761.0,661.6 L761.9,661.9 L762.7,662.4 L763.0,663.1 L763.0,664.0 L762.8,665.0 L762.6,665.9 L762.6,666.8 L762.9,667.4 L763.6,668.0 L764.4,668.4 L765.4,668.8 L766.1,669.4 L766.4,670.1 L766.3,670.9 L766.0,671.9 L765.8,672.9 L765.8,673.7 L766.1,674.4 L766.7,675.0 L767.5,675.5 L768.5,675.9 L769.1,676.5 L769.4,677.2 L769.3,678.1 L768.9,679.1 L768.7,680.0 L768.6,680.8 L768.8,681.5 L769.4,682.1 L770.2,682.7 L771.1,683.2 L771.8,683.8 L772.0,684.5 L771.8,685.4 L771.4,686.3 L771.1,687.2 L771.0,688.1 L771.2,688.8 L771.8,689.4 L772.5,690.0 L773.4,690.6 L774.0,691.2 L774.2,692.0 L774.0,692.8 L773.5,693.7 L773.1,694.6 L773.0,695.4 L773.2,696.2 L773.7,696.9 L774.4,697.5 L775.2,698.1 L775.8,698.7 L776.0,699.5 L775.7,700.3 L775.2,701.2 L774.8,702.1 L774.6,702.9 L774.7,703.7 L775.2,704.4 L775.9,705.0 L776.7,705.7 L777.2,706.4 L777.3,707.1 L777.0,708.0 L776.5,708.8 L776.0,709.7 L775.7,710.5 L775.8,711.2 L776.3,711.9 L777.0,712.6 L777.7,713.3 L778.2,714.1 L778.3,714.8 L777.9,715.6 L777.3,716.5 L776.8,717.3 L776.5,718.1 L776.5,718.8 L777.0,719.6 L777.6,720.3 L778.3,721.0 L778.8,721.8 L778.8,722.6 L778.4,723.4 L777.7,724.2 L777.2,724.9 L776.8,725.7 L776.8,726.5 L777.2,727.2 L777.8,728.0Z"/>
<circle cx="638.2" cy="728.0" r="120.6"/><circle cx="638.2" cy="728.0" r="111.7"/>
<!-- saddle -->
<path d="M241.7,477 C242.5,475.2 244.5,475.3 247,475.5 C265,477 285,479 299,479.6 C315,480.2 330,479.6 340.3,479.8 C347,480 352,481.2 357,483 C361,484.4 365,485.3 368,486.2 C368.6,487 367.5,487.6 366,487.4 C360,486.4 353,485.3 346,485.2 C338,485 332,485 326.6,485.4 C314,486.6 302,489.5 290.7,490.2 C280,490.8 270,490.5 262,490 C258,489.8 254,489.8 252.5,489 C250.5,487.8 249.5,484 247.9,481.7 C246.5,479.8 243,479 241.7,477Z"/>
<path d="M263.1,490.2 L269,496 C270,497 271.5,497.3 273,497.4 L291,497.8 M311,497.4 L315.5,497 C322,494.5 330,489.8 336.2,487"/>
<path d="M266.5,490.3 L271.5,494.6 L291.5,495.2 M310.5,494.8 L315,494.3 C321,491.8 327,488.6 331.5,486.2"/>
<path d="M344.5,487.2 C345.5,489.3 350.5,489.6 353,487"/>
<!-- seat clamp -->
<circle cx="300.6" cy="501" r="7.5"/><circle cx="300.6" cy="501" r="5.4"/>
<path d="M305.5,506.7 L308.5,509.6 L318.3,510.7 L316.6,503.6 L308,498.5"/>
<!-- seatpost -->
<path d="M304.3,509 L330,585.9 M318.3,510.7 L343.8,579.7 M306.6,517.6 L317.6,512.8 M330,585.6 L343.8,579.7 M329,582.5 L342.8,576.7"/>
<!-- seat tube -->
<path d="M330,585.9 L343.9,621.4"/>
<path d="M343.8,579.7 C345.3,584 346,587.4 348.5,589.6 C350.8,591.4 354,592.1 358,592.6 C365,593.5 374,593.7 381.7,592.8 C388,592 392,590.6 395.5,589.3 C401,587.3 405,584.8 409.3,582.4 C417,578 424,573 430,568.6 L528.3,500.2"/>
<!-- top tube lower edge + opening -->
<path d="M358,619 C356.8,616.5 356.5,613.5 357.6,611.8 C358.8,609.8 362,608.6 366.2,607.8 C372,606.7 377,605.8 382.8,604.9 C389,604 394,603.3 399.3,602.4 C406,601 412,598.5 420,595.8 C426,593.6 432,590 438,586.2 L489.7,544.8 C491.5,543.5 493.8,543.6 494.7,544.8 C495.6,546 495.4,547.5 494.5,549.3 L450.3,640 C446,649 441,660 435.2,671.7 C432,678 429,684 425.5,688.3 C422,692.6 418.5,695.6 414.5,697.9 C410,700.5 405.5,702.8 400.7,704.8 C396.5,706.5 392.5,707.9 388.3,709 C383,710.4 378,711 374,712"/>
<!-- down tube lower edge -->
<path d="M546.2,536.6 C543,537.2 540.5,537.8 537.9,538.6 C533,540.2 528,542.3 524.1,544.8 C519.5,547.8 516,552 513.1,557.2 L496.6,591.7 L473.8,638.6 L457.2,677.2 C453.5,685.5 450,693 446.2,699.3 C443,704.6 439.5,709 435.2,713.1 C431,717.2 426.5,721 421.4,724.1 C417,726.8 412.5,729.2 407.6,731 C403,732.7 398.5,734.5 393.8,735.9 C389.5,737.2 385,738.3 380,739.3 C377,740 375,741.5 372,743"/>
<!-- head tube -->
<path d="M542.2,488.8 C545.5,491.5 547.5,494 549.7,497.9 L566.2,531 C567.5,533.5 569.5,535 571.2,536 M528.3,500.2 L527.5,497.2 M544.7,536.8 L562.9,529.4"/>
<!-- spacers -->
<path d="M527.3,493 L540.6,487.6 M528.1,497.1 L542.2,491.3 M527.7,499.8 L543,493.8 M527.3,493 L528.3,500"/>
<!-- stem -->
<circle cx="556.7" cy="466.9" r="11.6"/><circle cx="556.7" cy="466.9" r="10.2"/><circle cx="556.7" cy="466.9" r="7.4"/>
<path d="M548.5,458.6 L532.3,470.6 L519.5,475.6 C516.8,476.6 515.4,478.4 515.8,480.4 C516.2,482.6 517.6,483.6 519.5,483.2 L524.5,481.6 C526,481.2 527,482.4 526.4,483.8 C526,484.8 525,485.4 523.5,486 L521.5,487 C520.2,487.8 520,489.4 520.7,490.8 C521.3,492.2 522.5,493 524,493 L527.3,493"/>
<path d="M532.3,470.6 C530.5,473.5 530.4,476.5 531.4,478.9 C532.2,481.2 533.3,483 534.8,484.7 C536.2,486.2 538,487 539.7,487.2 L553.5,478.3"/>
<circle cx="518.9" cy="480.3" r="0.7"/><circle cx="523.3" cy="489.8" r="0.7"/>
<!-- fork crown -->
<path fill="#fff" stroke="none" d="M564,552.7 L589.3,615.9 L600,612 L590.6,585.5 L575.3,544.3Z"/>
<path d="M544.7,537.7 L548.8,542.6 L553,542.6 L559.6,550.1 L563.7,550.9 L564,552.7 L589.3,615.9 M571.2,536 L575.3,544.3 L590.6,585.5 M556.3,541 L568.7,535.2 L569.5,536.6 L557.5,542.4Z"/>
<!-- fork lower -->
<path fill="#fff" d="M588.7,616.5 L637.4,731 C638.5,733.3 641,734 643.3,733.5 C646,733 649,731.5 650.1,728.5 L608.3,626 L605.8,615.9 L600.7,593.1 L591.2,584 L590.6,585.5 L599.5,613.4 C597,615.5 592,616.8 588.7,616.5 M599.5,613.4 C599.8,611.5 598.5,610.8 596,611.4 C592.5,612.2 589.5,614 588.7,616.5"/>
<!-- rear triangle -->
<path fill="#fff" fill-rule="evenodd" d="M184.8,730 C184,726 185.5,721.5 189.7,716.2 C192,713.3 196,710.5 200,707.8 L311.5,631.5 C313,630.4 314.5,629.6 315.9,629.3 L323,632 L324,642 C327,657 331,675 334.5,692 C337.5,706 340,718 342.5,728 L346,731 L345.5,741.5 C344,743.6 342,745.2 339.5,746.6 C336.5,748.3 333,749.5 329.7,749.3 L193.1,736.2 C191,736.2 189,736 187,735 C185.6,734.2 185,732.6 184.8,730Z M200.5,723.2 L308,647.2 C309.6,646.1 311,646.3 311.6,647.8 C316,664 320,680 323.5,695 C326,706 328.5,718 331.2,730.3 C331.6,732.3 330.5,733 328.5,732.8 L201,725.6 C199.5,725.5 199.2,724.2 200.5,723.2Z"/>
<path d="M315.6,648 C320,664 324,682 327.5,697 C330.5,710 333.5,720 336.3,729.5"/>
<!-- lower link -->
<circle cx="347" cy="734.9" r="2.4"/>
<path d="M343,738.5 C341.3,736 341.8,732.4 344.5,730.6 C346,729.6 348,729.3 350,729.8 L358,725.5 C362,721 368,717.4 375,716.2 C379,715.5 383,714.8 385.3,716.2 C386.6,717 386.9,719 386,721 C385,723.2 383,724.6 380.5,725 L375,725.5"/>
<path d="M343,738.5 C344.6,740.6 347.8,741.2 350.5,739.8 L355.5,735.5 M352,744 C351.5,746 353,747.6 355.5,747 L363,744.5 C366,743.5 368.5,742.4 371,741.8 C373.5,741.2 376.5,740.4 379,738.6 C382,736.4 384.5,734 386.5,731.5"/>
<path d="M352,744 C353.5,741 355.5,737.5 358.5,733.5 M356,726.8 C354,730 352,733.6 350.5,737"/>
<circle cx="381.7" cy="716.1" r="2.4"/>
<!-- BB -->
<circle cx="367.2" cy="732" r="7.7"/>
<!-- seat tube lower -->
<path d="M348.2,658 C349.5,676 351,697 353.5,716 M351.5,659 C352.8,677 354.3,697 356.8,716"/>
<path d="M363.8,650.5 C362.5,668 362.8,690 364.6,718 M366.4,649.8 C365.1,668 365.4,690 367.2,716.5"/>
<!-- rocker -->
<circle cx="320.3" cy="635.1" r="2.6"/><circle cx="377" cy="633.9" r="2.6"/><circle cx="354.2" cy="652.9" r="1.8"/>
<path fill="#fff" d="M315.9,629.3 C313,630.5 311.8,634 313.5,637.6 C314.8,640.2 317,641.4 319.5,641.5 C324,641.7 329,642 333.1,643 C337.5,644.2 340.5,646.8 343,649.6 C345.5,652.4 347.5,655 349.7,656.6 C352,658.4 355,659.4 357.1,658.7 C359.5,657.8 360.2,654.8 361.2,652.9 C363,649.5 366.5,648.4 370.3,647.1 C374,645.8 378,643.8 381.1,640.5 C383.2,638.2 384.2,635.8 383.6,633 C382.8,629.5 380.5,627.8 378.6,626.4 C376,624.3 374.2,622.6 372,621.2 C369.8,619.8 367.5,619.2 365.4,619.4 C363,619.6 360.5,620.8 357.9,622.3 C352,624 347,625.6 341.4,626.4 C333,627.6 324,628.4 315.9,629.3Z"/>
<circle cx="320.3" cy="635.1" r="2.6"/><circle cx="377" cy="633.9" r="2.6"/><circle cx="354.2" cy="652.9" r="1.8"/>
<!-- shock -->
<path d="M372.6,649.5 C372.6,648 373.6,647.2 375,647.2 L388.6,647.2 C390,647.2 391,648 391,649.5 L391,672.8 L372.6,672.8Z M372.6,650.6 L391,650.6 M372.6,669.8 L391,669.8"/>
<path d="M374,672.8 L374,679.5 L389.8,679.5 L389.8,672.8 M374,676.2 L389.8,676.2 M376,679.5 L376.6,686 L387.2,686 L387.8,679.5 M377.8,686 L378.5,710 M386,686 L385.6,710"/>
<path d="M393.2,641.5 L406.3,641.5 L406.3,665.3 L393.2,665.3Z M393.2,644 L406.3,644 M393.2,662.6 L406.3,662.6 M398.6,665.3 L398.6,667.6 L401.6,667.6 L401.6,665.3"/>
<path d="M391,631.4 C392.5,630 395.5,629.6 397.7,630.6 C399.6,631.5 400.2,634 401.8,636.3 L404.5,637 L405,641.5 M391,640.5 L393.2,641.5 M383.6,633 L391,631.4"/>
<!-- handlebar -->
<path d="M873.9,487.3 C868,488.2 863,489.4 858.8,489.8 L785,495.3 C783.2,495.5 782.3,496.6 782.3,498 L782.6,506.8 C782.7,508.4 783.8,509.1 785.3,509 L873.9,503.3"/>
<path d="M890.6,487.3 C897,488.2 903,489.4 908,489.8 L982.4,496 C984.2,496.2 985.1,497.3 985.1,498.7 L984.8,506.6 C984.7,508.2 983.6,509 982.1,508.9 L912.8,504.1 L890.6,502.5"/>
<path d="M873.9,503.3 L873.9,488 C873.9,486.6 874.9,485.9 876.4,485.9 L880,485.9 C881.5,487 883.2,487 884.7,485.9 L888.1,485.9 C889.6,485.9 890.6,486.6 890.6,488 L890.6,502.5 L890.3,528.5 C890,534 886.6,538.2 882.3,538.2 C878,538.2 874.6,534 874.3,528.5 L873.9,503.3 M874.7,504.4 C879,502.4 886,502.4 890.3,504.4"/>
<circle cx="882.3" cy="525.8" r="5.9"/><circle cx="882.3" cy="525.8" r="1.5"/>
<!-- crank -->
<path d="M936.4,713.6 L936.4,714.3 L936.3,715.1 L934.5,715.7 L932.6,716.4 L932.4,717.0 L932.4,717.7 L932.3,718.4 L932.4,719.1 L934.1,720.0 L935.7,721.0 L935.8,721.7 L935.7,722.5 L935.5,723.2 L935.2,723.9 L933.3,724.2 L931.5,724.5 L931.1,725.1 L930.9,725.8 L930.8,726.5 L930.7,727.2 L932.2,728.4 L933.7,729.6 L933.6,730.4 L933.4,731.1 L933.1,731.8 L932.7,732.4 L930.8,732.4 L928.9,732.3 L928.4,732.9 L928.1,733.5 L927.8,734.1 L927.7,734.8 L929.0,736.3 L930.2,737.7 L930.0,738.5 L929.6,739.1 L929.2,739.8 L928.7,740.3 L926.8,740.0 L924.9,739.6 L924.4,740.1 L924.0,740.6 L923.6,741.2 L923.4,741.9 L924.4,743.5 L925.3,745.2 L925.0,745.8 L924.5,746.4 L924.0,747.0 L923.4,747.4 L921.6,746.8 L919.8,746.1 L919.2,746.5 L918.7,746.9 L918.3,747.4 L917.9,748.0 L918.6,749.8 L919.2,751.6 L918.8,752.2 L918.2,752.7 L917.6,753.2 L917.0,753.5 L915.3,752.6 L913.7,751.6 L913.0,751.8 L912.4,752.2 L911.9,752.6 L911.4,753.1 L911.8,755.0 L912.1,756.9 L911.6,757.4 L910.9,757.8 L910.3,758.2 L909.5,758.4 L908.1,757.2 L906.6,755.9 L905.9,756.0 L905.3,756.3 L904.7,756.6 L904.1,757.1 L904.2,759.0 L904.2,760.9 L903.6,761.3 L902.9,761.6 L902.2,761.8 L901.4,761.9 L900.2,760.4 L899.0,758.9 L898.3,759.0 L897.6,759.1 L896.9,759.3 L896.3,759.7 L896.0,761.5 L895.7,763.4 L895.0,763.7 L894.3,763.9 L893.5,764.0 L892.8,763.9 L891.8,762.3 L890.9,760.6 L890.2,760.5 L889.5,760.6 L888.8,760.6 L888.2,760.8 L887.5,762.7 L886.9,764.5 L886.1,764.6 L885.4,764.6 L884.7,764.6 L883.9,764.5 L883.3,762.7 L882.6,760.8 L882.0,760.6 L881.3,760.6 L880.6,760.5 L879.9,760.6 L879.0,762.3 L878.0,763.9 L877.3,764.0 L876.5,763.9 L875.8,763.7 L875.1,763.4 L874.8,761.5 L874.5,759.7 L873.9,759.3 L873.2,759.1 L872.5,759.0 L871.8,758.9 L870.6,760.4 L869.4,761.9 L868.6,761.8 L867.9,761.6 L867.2,761.3 L866.6,760.9 L866.6,759.0 L866.7,757.1 L866.1,756.6 L865.5,756.3 L864.9,756.0 L864.2,755.9 L862.7,757.2 L861.3,758.4 L860.5,758.2 L859.9,757.8 L859.2,757.4 L858.7,756.9 L859.0,755.0 L859.4,753.1 L858.9,752.6 L858.4,752.2 L857.8,751.8 L857.1,751.6 L855.5,752.6 L853.8,753.5 L853.2,753.2 L852.6,752.7 L852.0,752.2 L851.6,751.6 L852.2,749.8 L852.9,748.0 L852.5,747.4 L852.1,746.9 L851.6,746.5 L851.0,746.1 L849.2,746.8 L847.4,747.4 L846.8,747.0 L846.3,746.4 L845.8,745.8 L845.5,745.2 L846.4,743.5 L847.4,741.9 L847.2,741.2 L846.8,740.6 L846.4,740.1 L845.9,739.6 L844.0,740.0 L842.1,740.3 L841.6,739.8 L841.2,739.1 L840.8,738.5 L840.6,737.7 L841.8,736.3 L843.1,734.8 L843.0,734.1 L842.7,733.5 L842.4,732.9 L841.9,732.3 L840.0,732.4 L838.1,732.4 L837.7,731.8 L837.4,731.1 L837.2,730.4 L837.1,729.6 L838.6,728.4 L840.1,727.2 L840.0,726.5 L839.9,725.8 L839.7,725.1 L839.3,724.5 L837.5,724.2 L835.6,723.9 L835.3,723.2 L835.1,722.5 L835.0,721.7 L835.1,721.0 L836.7,720.0 L838.4,719.1 L838.5,718.4 L838.4,717.7 L838.4,717.0 L838.2,716.4 L836.3,715.7 L834.5,715.1 L834.4,714.3 L834.4,713.6 L834.4,712.9 L834.5,712.1 L836.3,711.5 L838.2,710.8 L838.4,710.2 L838.4,709.5 L838.5,708.8 L838.4,708.1 L836.7,707.2 L835.1,706.2 L835.0,705.5 L835.1,704.7 L835.3,704.0 L835.6,703.3 L837.5,703.0 L839.3,702.7 L839.7,702.1 L839.9,701.4 L840.0,700.7 L840.1,700.0 L838.6,698.8 L837.1,697.6 L837.2,696.8 L837.4,696.1 L837.7,695.4 L838.1,694.8 L840.0,694.8 L841.9,694.9 L842.4,694.3 L842.7,693.7 L843.0,693.1 L843.1,692.4 L841.8,690.9 L840.6,689.5 L840.8,688.7 L841.2,688.1 L841.6,687.4 L842.1,686.9 L844.0,687.2 L845.9,687.6 L846.4,687.1 L846.8,686.6 L847.2,686.0 L847.4,685.3 L846.4,683.7 L845.5,682.0 L845.8,681.4 L846.3,680.8 L846.8,680.2 L847.4,679.8 L849.2,680.4 L851.0,681.1 L851.6,680.7 L852.1,680.3 L852.5,679.8 L852.9,679.2 L852.2,677.4 L851.6,675.6 L852.0,675.0 L852.6,674.5 L853.2,674.0 L853.8,673.7 L855.5,674.6 L857.1,675.6 L857.8,675.4 L858.4,675.0 L858.9,674.6 L859.4,674.1 L859.0,672.2 L858.7,670.3 L859.2,669.8 L859.9,669.4 L860.5,669.0 L861.3,668.8 L862.7,670.0 L864.2,671.3 L864.9,671.2 L865.5,670.9 L866.1,670.6 L866.7,670.1 L866.6,668.2 L866.6,666.3 L867.2,665.9 L867.9,665.6 L868.6,665.4 L869.4,665.3 L870.6,666.8 L871.8,668.3 L872.5,668.2 L873.2,668.1 L873.9,667.9 L874.5,667.5 L874.8,665.7 L875.1,663.8 L875.8,663.5 L876.5,663.3 L877.3,663.2 L878.0,663.3 L879.0,664.9 L879.9,666.6 L880.6,666.7 L881.3,666.6 L882.0,666.6 L882.6,666.4 L883.3,664.5 L883.9,662.7 L884.7,662.6 L885.4,662.6 L886.1,662.6 L886.9,662.7 L887.5,664.5 L888.2,666.4 L888.8,666.6 L889.5,666.6 L890.2,666.7 L890.9,666.6 L891.8,664.9 L892.8,663.3 L893.5,663.2 L894.3,663.3 L895.0,663.5 L895.7,663.8 L896.0,665.7 L896.3,667.5 L896.9,667.9 L897.6,668.1 L898.3,668.2 L899.0,668.3 L900.2,666.8 L901.4,665.3 L902.2,665.4 L902.9,665.6 L903.6,665.9 L904.2,666.3 L904.2,668.2 L904.1,670.1 L904.7,670.6 L905.3,670.9 L905.9,671.2 L906.6,671.3 L908.1,670.0 L909.5,668.8 L910.3,669.0 L910.9,669.4 L911.6,669.8 L912.1,670.3 L911.8,672.2 L911.4,674.1 L911.9,674.6 L912.4,675.0 L913.0,675.4 L913.7,675.6 L915.3,674.6 L917.0,673.7 L917.6,674.0 L918.2,674.5 L918.8,675.0 L919.2,675.6 L918.6,677.4 L917.9,679.2 L918.3,679.8 L918.7,680.3 L919.2,680.7 L919.8,681.1 L921.6,680.4 L923.4,679.8 L924.0,680.2 L924.5,680.8 L925.0,681.4 L925.3,682.0 L924.4,683.7 L923.4,685.3 L923.6,686.0 L924.0,686.6 L924.4,687.1 L924.9,687.6 L926.8,687.2 L928.7,686.9 L929.2,687.4 L929.6,688.1 L930.0,688.7 L930.2,689.5 L929.0,690.9 L927.7,692.4 L927.8,693.1 L928.1,693.7 L928.4,694.3 L928.9,694.9 L930.8,694.8 L932.7,694.8 L933.1,695.4 L933.4,696.1 L933.6,696.8 L933.7,697.6 L932.2,698.8 L930.7,700.0 L930.8,700.7 L930.9,701.4 L931.1,702.1 L931.5,702.7 L933.3,703.0 L935.2,703.3 L935.5,704.0 L935.7,704.7 L935.8,705.5 L935.7,706.2 L934.1,707.2 L932.4,708.1 L932.3,708.8 L932.4,709.5 L932.4,710.2 L932.6,710.8 L934.5,711.5 L936.3,712.1 L936.4,712.9 L936.4,713.6Z"/>
<ellipse cx="865.8" cy="691.9" rx="14" ry="10.8" transform="rotate(38 865.8 691.9)"/>
<ellipse cx="901.7" cy="687.8" rx="11.4" ry="14.6" transform="rotate(12 901.7 687.8)"/>
<ellipse cx="860.3" cy="725.2" rx="13.6" ry="12.2" transform="rotate(-35 860.3 725.2)"/>
<ellipse cx="888.6" cy="745.2" rx="11.8" ry="13.2" transform="rotate(-15 888.6 745.2)"/>
<ellipse cx="913.5" cy="720.6" rx="10.5" ry="12.5" transform="rotate(10 913.5 720.6)"/>
<path d="M859,684 l2.5,1.5 l1.5,-2.5 l3,1 l0.5,3 l3,-0.5 M857,698 C862,694 869,689 875,687 M862,702 C868,697 873,693 878,694"/>
<path d="M897,680 l2,2.5 l3,-1 l1.5,3 l3,0.5 M893,691 C897,694 904,696 909,694"/>
<path d="M851,722 l3,1 l0.5,3 l3,0.5 l1,3 l3.5,-0.5 M858,716 C861,722 863,729 862,736 M866,716 C870,722 870,730 867,736"/>
<path d="M879,746 l3,2.5 l3,-2 l3,2.5 l3,-2 l2.5,2 M880,738 C886,741 893,741 898,738 M879,752 C884,757 893,757 899,752"/>
<path d="M908,714 C911,712 916,712 919,714 M912,713 l0,8 M917,722 l3,2 l-1,3 M920,730 l-3,2"/>
<path d="M874.1,675.9 L891.2,673.7 L884.6,683.1Z"/>
<path d="M850.9,698.0 L846.5,714.0 L857.0,705.2Z"/>
<path d="M860.3,743.2 L871.3,738.8 L874.1,751.0Z"/>
<path d="M918.8,690.8 L924.9,706.3 L916.0,701.9Z"/>
<path fill="#fff" d="M876.9,722.4 L932.3,770.2 A10.3,10.3 0 0 0 946.1,755.0 L893.3,704.4 A12.2,12.2 0 0 0 876.9,722.4Z"/>
<circle cx="885.1" cy="713.4" r="7.2"/>
<circle cx="939.2" cy="762.6" r="5.9"/>

</g>
<g fill="none" stroke="#2f3692" stroke-width="1.7">

<line x1="302.9" y1="432.6" x2="516.5" y2="432.6"/><path d="M296.0,432.6 L304.6,429.0 L304.6,436.2Z" fill="#2f3692" stroke="none"/><path d="M523.4,432.6 L514.8,436.2 L514.8,429.0Z" fill="#2f3692" stroke="none"/>
<line x1="375.2" y1="455.2" x2="516.5" y2="455.2"/><path d="M368.3,455.2 L376.9,451.6 L376.9,458.8Z" fill="#2f3692" stroke="none"/><path d="M523.4,455.2 L514.8,458.8 L514.8,451.6Z" fill="#2f3692" stroke="none"/>
<line x1="368.2" y1="456" x2="368.2" y2="725" stroke-width="1.5" stroke-dasharray="2.5,3.4"/>
<line x1="340.3" y1="590.8" x2="368.2" y2="732.0"/><path d="M339.0,584.1 L344.2,591.8 L337.1,593.2Z" fill="#2f3692" stroke="none"/>
<line x1="387.8" y1="597.9" x2="387.8" y2="862.6"/><path d="M387.8,591.0 L391.4,599.6 L384.2,599.6Z" fill="#2f3692" stroke="none"/><path d="M387.8,869.5 L384.2,860.9 L391.4,860.9Z" fill="#2f3692" stroke="none"/>
<line x1="542.2" y1="504.9" x2="542.2" y2="724.1"/><path d="M542.2,498.0 L545.8,506.6 L538.6,506.6Z" fill="#2f3692" stroke="none"/><path d="M542.2,731.0 L538.6,722.4 L545.8,722.4Z" fill="#2f3692" stroke="none"/>
<line x1="557.3" y1="488.1" x2="573.4" y2="523.0"/><path d="M555.0,483.0 L560.7,488.1 L555.1,490.7Z" fill="#2f3692" stroke="none"/><path d="M575.7,528.1 L570.0,523.0 L575.6,520.4Z" fill="#2f3692" stroke="none"/>
<line x1="173.0" y1="593.7" x2="173.0" y2="862.6" stroke-dasharray="4,0.6"/><path d="M173.0,586.8 L176.6,595.4 L169.4,595.4Z" fill="#2f3692" stroke="none"/><path d="M173.0,869.5 L169.4,860.9 L176.6,860.9Z" fill="#2f3692" stroke="none"/>
<line x1="191.7" y1="779.2" x2="635.9" y2="779.2"/><path d="M184.8,779.2 L193.4,775.6 L193.4,782.8Z" fill="#2f3692" stroke="none"/><path d="M642.8,779.2 L634.2,782.8 L634.2,775.6Z" fill="#2f3692" stroke="none"/>
<line x1="191.6" y1="745.8" x2="333.2" y2="764.3"/><path d="M184.8,744.9 L193.8,742.4 L192.9,749.6Z" fill="#2f3692" stroke="none"/><path d="M340.0,765.2 L331.0,767.7 L331.9,760.5Z" fill="#2f3692" stroke="none"/>
<line x1="396.2" y1="724.5" x2="396.2" y2="733.2"/><path d="M396.2,718.5 L400.0,726.0 L392.4,726.0Z" fill="#2f3692" stroke="none"/><path d="M396.2,739.2 L392.4,731.7 L400.0,731.7Z" fill="#2f3692" stroke="none"/>
<line x1="192.5" y1="724.9" x2="392" y2="724.9" stroke-width="1.5" stroke-dasharray="2.5,3.4"/>
<line x1="368.2" y1="732.3" x2="542" y2="732.3" stroke-width="1.5" stroke-dasharray="2.5,3.4"/>
<line x1="642" y1="790.5" x2="642" y2="878" stroke-width="1.5" stroke-dasharray="2.5,3.4"/>
<line x1="670.3" y1="789.2" x2="706.7" y2="878" stroke-width="1.5" stroke-dasharray="2.5,3.4"/>
<line x1="649.2" y1="879.6" x2="697.6" y2="879.6"/><path d="M642.3,879.6 L650.9,876.0 L650.9,883.2Z" fill="#2f3692" stroke="none"/><path d="M704.5,879.6 L695.9,883.2 L695.9,876.0Z" fill="#2f3692" stroke="none"/>
<line x1="645.8" y1="741.5" x2="651.8" y2="738.9"/><path d="M640.6,743.7 L645.8,738.0 L648.3,743.9Z" fill="#2f3692" stroke="none"/><path d="M657.0,736.7 L651.8,742.4 L649.3,736.5Z" fill="#2f3692" stroke="none"/>
<path d="M326.5,716.5 Q333,705.5 345.5,699.2"/>
<path d="M323.2,721.0 L323.9,712.9 L329.5,715.9Z" fill="#2f3692" stroke="none"/>
<path d="M350.5,696.7 L345.3,703.0 L342.4,697.3Z" fill="#2f3692" stroke="none"/>
<path d="M598.6,731 Q602.5,716.5 618.5,709"/>
<path d="M597.7,736.8 L595.6,728.9 L601.9,729.8Z" fill="#2f3692" stroke="none"/>
<path d="M623.0,706.9 L617.6,713.0 L614.9,707.2Z" fill="#2f3692" stroke="none"/>
<line x1="791.2" y1="554.1" x2="982.0" y2="554.1"/><path d="M784.3,554.1 L792.9,550.5 L792.9,557.7Z" fill="#2f3692" stroke="none"/><path d="M988.9,554.1 L980.3,557.7 L980.3,550.5Z" fill="#2f3692" stroke="none"/>
<line x1="903.7" y1="492.4" x2="903.7" y2="530.2"/><path d="M903.7,486.0 L907.1,494.0 L900.3,494.0Z" fill="#2f3692" stroke="none"/><path d="M903.7,536.6 L900.3,528.6 L907.1,528.6Z" fill="#2f3692" stroke="none"/>
<line x1="903.6" y1="693.2" x2="960.5" y2="743.6"/><path d="M898.4,688.6 L907.2,691.6 L902.5,697.0Z" fill="#2f3692" stroke="none"/><path d="M965.7,748.2 L956.9,745.2 L961.6,739.8Z" fill="#2f3692" stroke="none"/>
</g>
<g font-family="'Liberation Sans',sans-serif" font-weight="bold" font-size="12.2" fill="#fff" stroke="#fff" stroke-width="0.3">
<circle cx="410.3" cy="432.6" r="8.8" fill="#121878" stroke="#fff" stroke-width="0.6"/><text x="410.3" y="437.0" text-anchor="middle">C</text>
<circle cx="446.2" cy="455.2" r="8.8" fill="#121878" stroke="#fff" stroke-width="0.6"/><text x="446.2" y="459.6" text-anchor="middle">L</text>
<circle cx="349.0" cy="639.2" r="8.8" fill="#121878" stroke="#fff" stroke-width="0.6"/><text x="349.0" y="643.6" text-anchor="middle">A</text>
<circle cx="387.8" cy="693.6" r="8.8" fill="#121878" stroke="#fff" stroke-width="0.6"/><text x="387.8" y="698.0" text-anchor="middle">M</text>
<circle cx="542.2" cy="607.5" r="8.8" fill="#121878" stroke="#fff" stroke-width="0.6"/><text x="542.2" y="611.9" text-anchor="middle">K</text>
<circle cx="565.9" cy="505.6" r="8.8" fill="#121878" stroke="#fff" stroke-width="0.6"/><text x="565.9" y="510.0" text-anchor="middle">D</text>
<circle cx="173.0" cy="729.6" r="8.8" fill="#121878" stroke="#fff" stroke-width="0.6"/><text x="173.0" y="734.0" text-anchor="middle">Q</text>
<circle cx="437.2" cy="779.2" r="8.8" fill="#121878" stroke="#fff" stroke-width="0.6"/><text x="437.2" y="783.6" text-anchor="middle">H</text>
<circle cx="247.3" cy="753.4" r="8.8" fill="#121878" stroke="#fff" stroke-width="0.6"/><text x="247.3" y="757.8" text-anchor="middle">I</text>
<circle cx="412.2" cy="720.4" r="8.8" fill="#121878" stroke="#fff" stroke-width="0.6"/><text x="412.2" y="724.8" text-anchor="middle">J</text>
<circle cx="326.4" cy="695.0" r="8.8" fill="#121878" stroke="#fff" stroke-width="0.6"/><text x="326.4" y="699.4" text-anchor="middle">B</text>
<circle cx="616.7" cy="727.8" r="8.8" fill="#121878" stroke="#fff" stroke-width="0.6"/><text x="616.7" y="732.1" text-anchor="middle">E</text>
<circle cx="654.5" cy="756.2" r="8.8" fill="#121878" stroke="#fff" stroke-width="0.6"/><text x="654.5" y="760.6" text-anchor="middle">F</text>
<circle cx="672.8" cy="880.0" r="8.8" fill="#121878" stroke="#fff" stroke-width="0.6"/><text x="672.8" y="884.4" text-anchor="middle">G</text>
<circle cx="882.3" cy="554.1" r="8.8" fill="#121878" stroke="#fff" stroke-width="0.6"/><text x="882.3" y="558.5" text-anchor="middle">N</text>
<circle cx="903.7" cy="510.5" r="8.8" fill="#121878" stroke="#fff" stroke-width="0.6"/><text x="903.7" y="514.9" text-anchor="middle">O</text>
<circle cx="930.8" cy="717.4" r="8.8" fill="#121878" stroke="#fff" stroke-width="0.6"/><text x="930.8" y="721.8" text-anchor="middle">P</text>
</g>
</svg>
</div>
<table class="geo"><thead><tr><th class="c0"></th><th class="c1"></th><th>S</th><th>M</th><th>L</th><th>XL</th></tr></thead>
<tbody>
<tr class="r0"><td class="c0"><b class="badge">A</b></td><td class="c1">LONGUEUR DE TUBE DE SELLE <small>(mm)</small></td><td class="v">390</td><td class="v">420</td><td class="v">465</td><td class="v">495</td></tr>
<tr class="r1"><td class="c0"><b class="badge">B</b></td><td class="c1">ANGLE DE TUBE DE SELLE</td><td class="v">75,5°</td><td class="v">75,5°</td><td class="v">75,5°</td><td class="v">75,5°</td></tr>
<tr class="r0"><td class="c0"><b class="badge">C</b></td><td class="c1">LONGUEUR DU TUBE SUPÉRIEUR <small>(mm)</small></td><td class="v">572</td><td class="v">604</td><td class="v">626</td><td class="v">653</td></tr>
<tr class="r1"><td class="c0"><b class="badge">D</b></td><td class="c1">LONGUEUR DU TUBE DE DIRECTION <small>(mm)</small></td><td class="v">90</td><td class="v">95</td><td class="v">105</td><td class="v">115</td></tr>
<tr class="r0"><td class="c0"><b class="badge">E</b></td><td class="c1">ANGLE DU TUBE DE DIRECTION</td><td class="v">67,5°</td><td class="v">67,5°</td><td class="v">67,5°</td><td class="v">67,5°</td></tr>
<tr class="r1"><td class="c0"><b class="badge">F</b></td><td class="c1">DÉPORT DE FOURCHE <small>(mm)</small></td><td class="v">44</td><td class="v">44</td><td class="v">44</td><td class="v">44</td></tr>
<tr class="r0"><td class="c0"><b class="badge">G</b></td><td class="c1">TRAIL <small>(mm)</small></td><td class="v">109</td><td class="v">109</td><td class="v">109</td><td class="v">109</td></tr>
<tr class="r1"><td class="c0"><b class="badge">H</b></td><td class="c1">EMPATTEMENT <small>(mm)</small></td><td class="v">1127</td><td class="v">1159</td><td class="v">1183</td><td class="v">1212</td></tr>
<tr class="r0"><td class="c0"><b class="badge">I</b></td><td class="c1">LONGUEUR DES BASES <small>(mm)</small></td><td class="v">435</td><td class="v">435</td><td class="v">435</td><td class="v">435</td></tr>
<tr class="r1"><td class="c0"><b class="badge">J</b></td><td class="c1">HAUTEUR DU BOITIER DE PÉDALIER <small>(mm)</small></td><td class="v">42</td><td class="v">42</td><td class="v">42</td><td class="v">42</td></tr>
<tr class="r0"><td class="c0"><b class="badge">K</b></td><td class="c1">STACK <small>(mm)</small></td><td class="v">489</td><td class="v">593</td><td class="v">603</td><td class="v">612</td></tr>
<tr class="r1"><td class="c0"><b class="badge">L</b></td><td class="c1">REACH <small>(mm)</small></td><td class="v">420</td><td class="v">450</td><td class="v">470</td><td class="v">495</td></tr>
<tr class="r0"><td class="c0"><b class="badge">M</b></td><td class="c1">HAUTEUR EN STATIQUE <small>(mm)</small></td><td class="v">745</td><td class="v">750</td><td class="v">777</td><td class="v">800</td></tr>
<tr class="r1"><td class="c0"><b class="badge">N</b></td><td class="c1">LARGEUR DE CINTRE <small>(mm)</small></td><td class="v">760</td><td class="v">760</td><td class="v">760</td><td class="v">760</td></tr>
<tr class="r0"><td class="c0"><b class="badge">O</b></td><td class="c1">LONGUEUR DE POTENCE <small>(mm)</small></td><td class="v">60</td><td class="v">70</td><td class="v">70</td><td class="v">70</td></tr>
<tr class="r1"><td class="c0"><b class="badge">P</b></td><td class="c1">LONGUEUR DES MANIVELLES <small>(mm)</small></td><td class="v">170</td><td class="v">175</td><td class="v">175</td><td class="v">175</td></tr>
<tr class="r0"><td class="c0"><b class="badge">Q</b></td><td class="c1">DIAMÈTRE DES ROUES</td><td class="v">29"</td><td class="v">29"</td><td class="v">29"</td><td class="v">29"</td></tr>
</tbody></table>
</div>
</body></html>
